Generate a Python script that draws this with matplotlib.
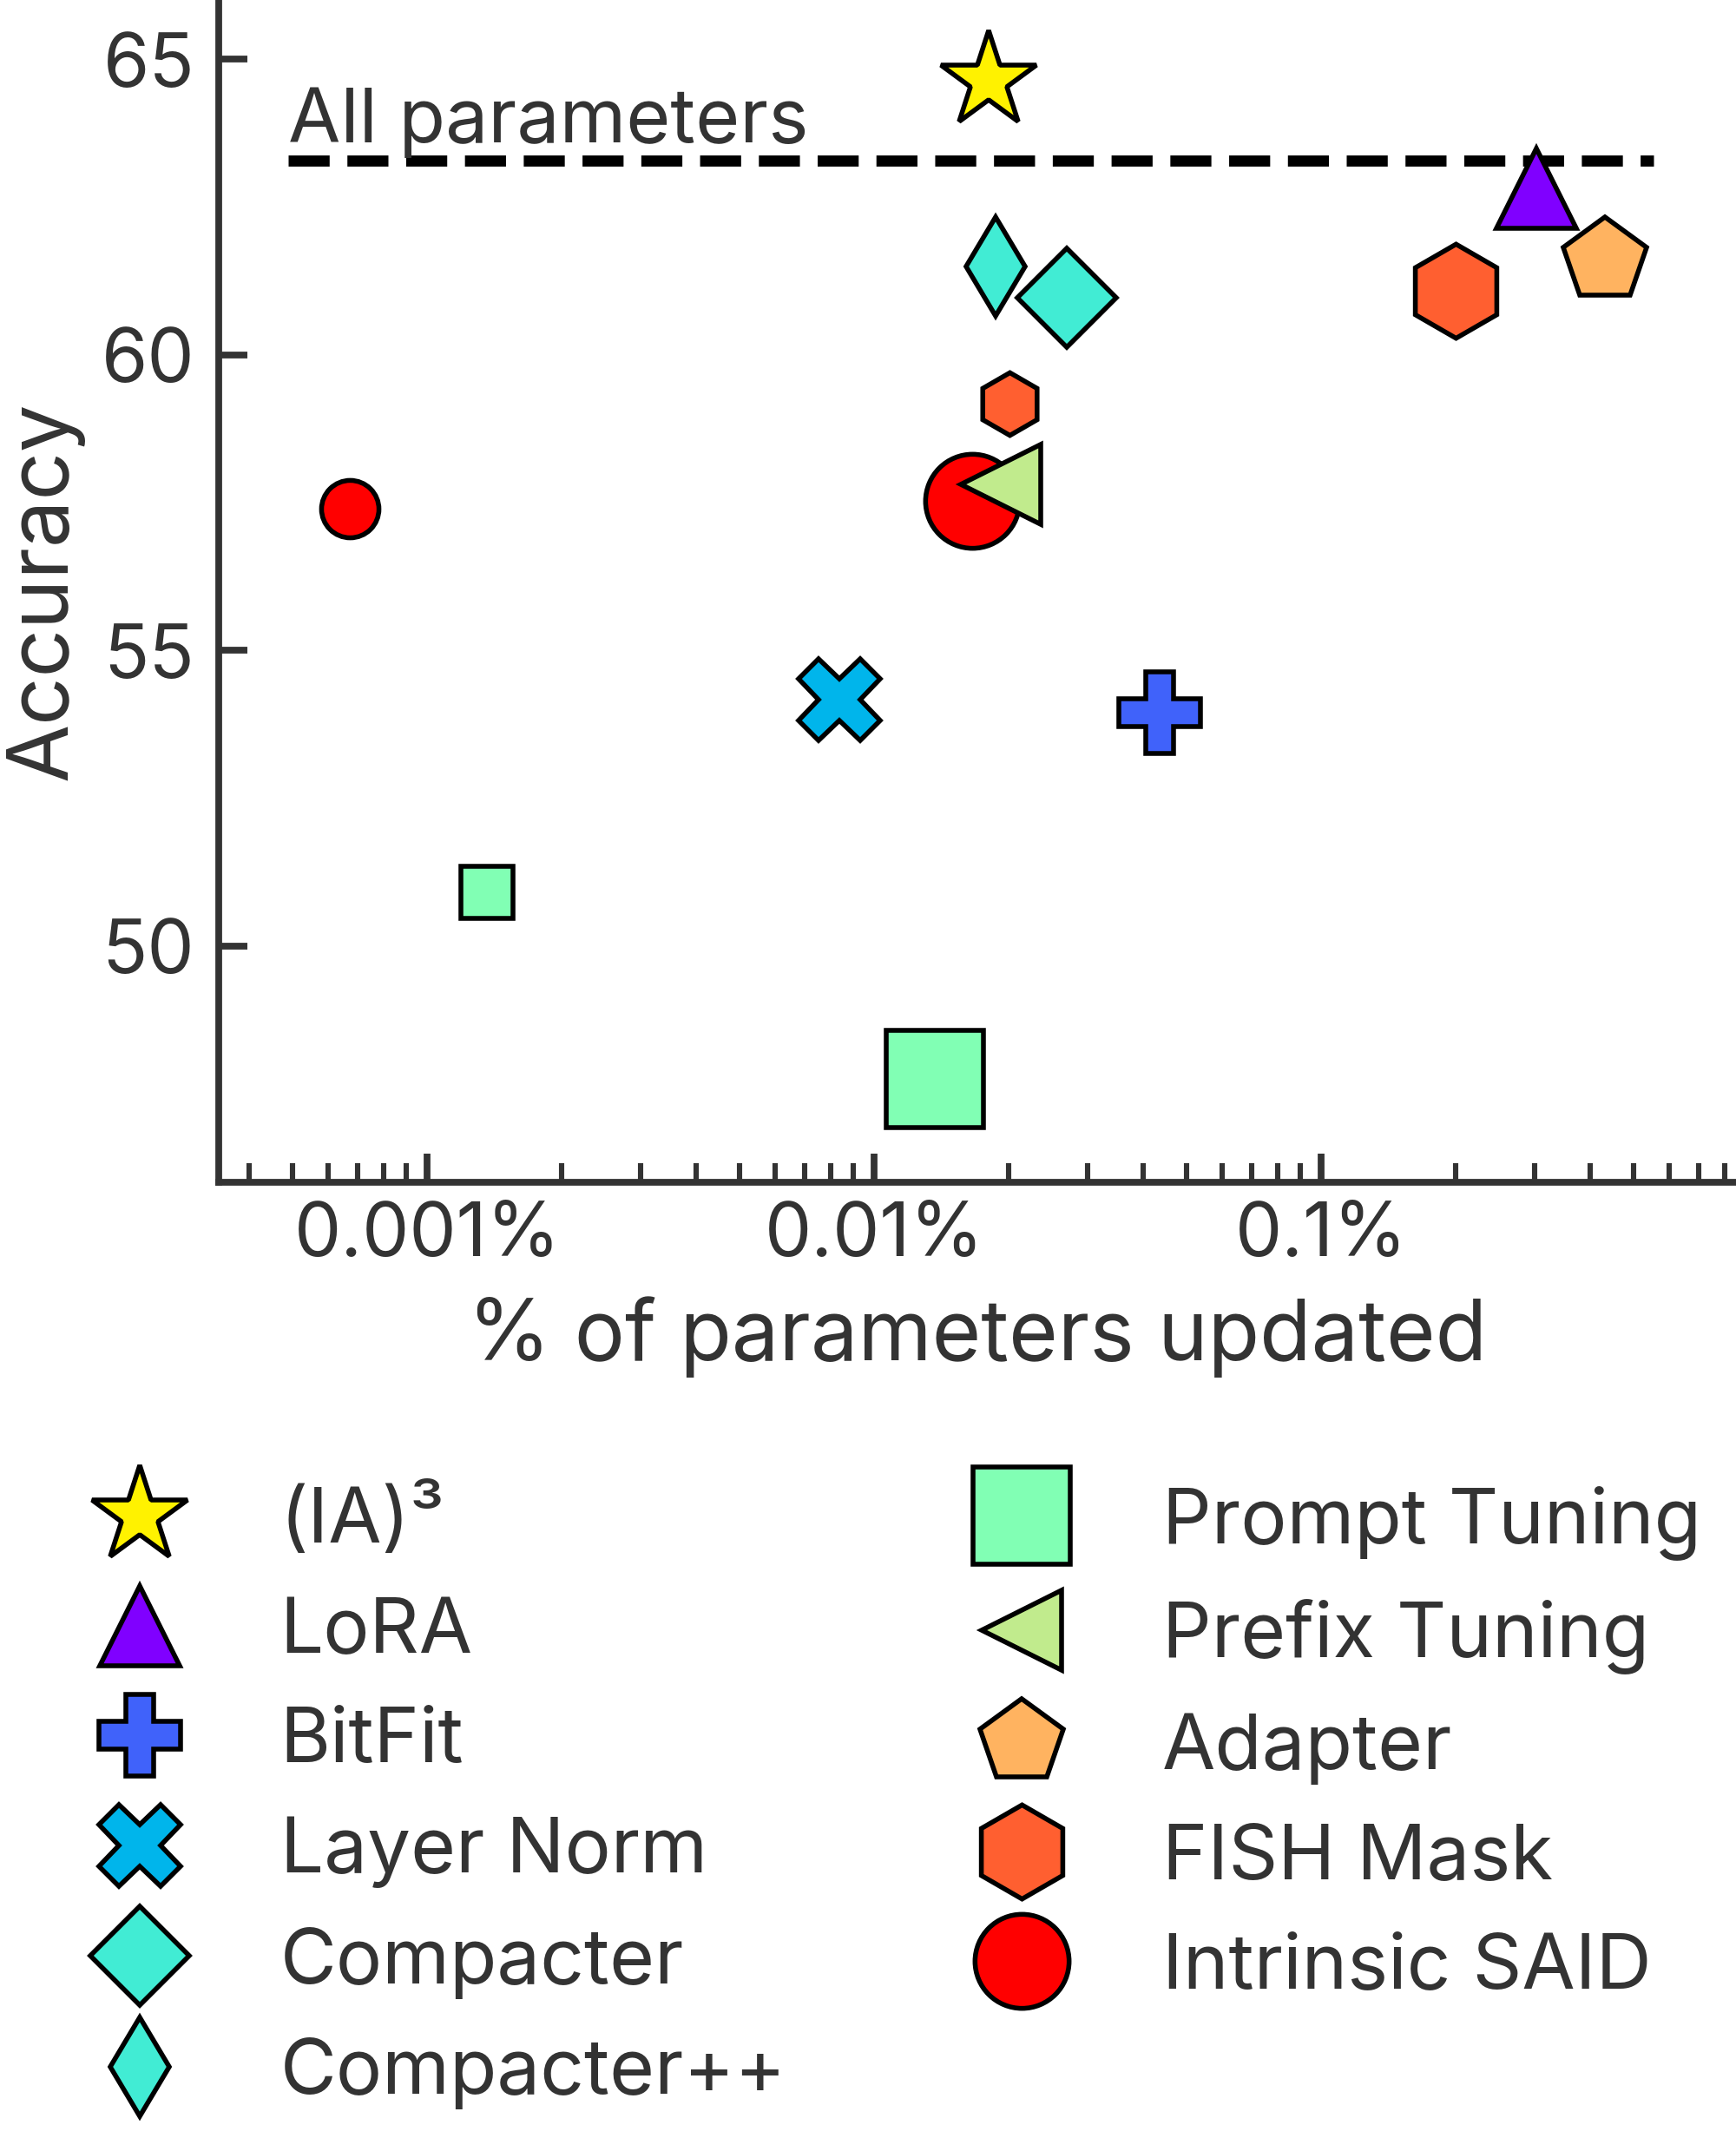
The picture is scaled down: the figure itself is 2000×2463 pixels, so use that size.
import matplotlib.pyplot as plt
from matplotlib.ticker import FuncFormatter, LogLocator, NullFormatter

plt.rcParams['font.family'] = ['Inter', 'DejaVu Sans']
plt.rcParams['font.size'] = 16
for k in ['text.color', 'axes.labelcolor', 'xtick.color', 'ytick.color', 'axes.edgecolor']:
    plt.rcParams[k] = '#333333'

# main results, x in % of parameters updated
methods = ['(IA)³', 'LoRA', 'BitFit', 'Layer Norm', 'Compacter', 'Compacter++',
           'Prompt Tuning', 'Prefix Tuning', 'Adapter', 'FISH Mask', 'Intrinsic SAID']
pct_updated = [0.0180, 0.303, 0.0435, 0.00838, 0.0270, 0.0187,
               0.01367, 0.0192, 0.4315, 0.200, 0.01656]
accuracy = [64.63, 62.81, 53.95, 54.17, 60.97, 61.49,
            47.75, 57.80, 61.60, 61.08, 57.52]

# extra (smaller) variants of a few methods
small_methods = ['Prompt Tuning', 'FISH Mask', 'Intrinsic SAID']
small_pct = [0.00136, 0.0201, 0.000672]
small_acc = [50.91, 59.17, 57.39]

all_params_acc = 63.28

# styling
rb = plt.cm.rainbow
colors = {'(IA)³': '#FFF200', 'LoRA': rb(0.0), 'BitFit': rb(0.125), 'Layer Norm': rb(0.25),
          'Compacter': rb(0.375), 'Compacter++': rb(0.375), 'Prompt Tuning': rb(0.5),
          'Prefix Tuning': rb(0.625), 'Adapter': rb(0.75), 'FISH Mask': rb(0.875),
          'Intrinsic SAID': rb(1.0)}
markers = {'(IA)³': '*', 'LoRA': '^', 'BitFit': 'P', 'Layer Norm': 'X', 'Compacter': 'D',
           'Compacter++': 'd', 'Prompt Tuning': 's', 'Prefix Tuning': '<', 'Adapter': 'p',
           'FISH Mask': 'h', 'Intrinsic SAID': 'o'}
msizes = {'(IA)³': 21, 'LoRA': 16.5, 'BitFit': 17, 'Layer Norm': 17, 'Compacter': 14.5,
          'Compacter++': 14.5, 'Prompt Tuning': 20, 'Prefix Tuning': 16.5, 'Adapter': 18,
          'FISH Mask': 19.5, 'Intrinsic SAID': 19.5}
small_sizes = {'Prompt Tuning': 10.8, 'FISH Mask': 13, 'Intrinsic SAID': 11.9}
zorders = {'Intrinsic SAID': 3, 'Compacter++': 3, 'LoRA': 3}

fig = plt.figure(figsize=(5, 2463 / 400), dpi=400)
ax = fig.add_axes([252 / 2000, 1 - 1362 / 2463, 1 - 252 / 2000, 1362 / 2463])

ax.hlines(all_params_acc, 0.000489, 0.555, colors='black', linestyles='--', lw=2.3, zorder=1)
ax.text(0.000489, 63.59, 'All parameters', va='baseline', ha='left', fontsize=15.75)

handles = []
for m, x, y in zip(methods, pct_updated, accuracy):
    h, = ax.plot(x, y, ls='none', marker=markers[m], ms=msizes[m], mfc=colors[m],
                 mec='black', mew=1.0, zorder=zorders.get(m, 4), label=m)
    handles.append(h)
for m, x, y in zip(small_methods, small_pct, small_acc):
    ax.plot(x, y, ls='none', marker=markers[m], ms=small_sizes[m], mfc=colors[m],
            mec='black', mew=1.0, zorder=4)

ax.set_xscale('log')
ax.set_xlim(10 ** -3.466, 10 ** -0.072)
ax.set_ylim(46, 66)
ax.set_yticks([50, 55, 60, 65])
ax.xaxis.set_major_locator(LogLocator(base=10, numticks=10))
ax.xaxis.set_minor_locator(LogLocator(base=10, subs=range(2, 10), numticks=20))
ax.xaxis.set_major_formatter(FuncFormatter(lambda v, p: f'{v:g}%'))
ax.xaxis.set_minor_formatter(NullFormatter())

for s in ['top', 'right']:
    ax.spines[s].set_visible(False)
for s in ['left', 'bottom']:
    ax.spines[s].set_linewidth(1.4)
ax.tick_params(which='major', direction='in', length=6, width=1.4, labelsize=15.5)
ax.tick_params(which='minor', direction='in', length=3.9, width=1.1)
ax.tick_params(axis='y', pad=5)
ax.tick_params(axis='x', pad=4)

ax.set_xlabel('% of parameters updated', fontsize=17.5, labelpad=5)
ax.set_ylabel('Accuracy', fontsize=17.5)
ax.yaxis.set_label_coords(-0.089, 0.5)

fig.legend(handles=handles, loc='upper left', bbox_to_anchor=(0.036, 0.306), ncol=2,
           frameon=False, borderpad=0, borderaxespad=0, handlelength=2.0,
           handletextpad=0.82, columnspacing=2.05, labelspacing=0.50, fontsize=16)

fig.savefig('out.png', dpi=400)
